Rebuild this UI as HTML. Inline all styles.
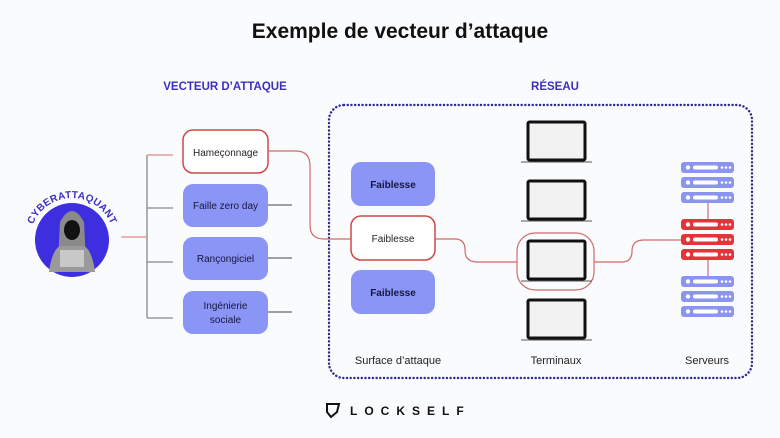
<!DOCTYPE html>
<html><head><meta charset="utf-8"><style>
html,body{margin:0;padding:0;background:#fafbfd}
svg{display:block}
text{font-family:"Liberation Sans",sans-serif}
</style></head><body>
<svg width="780" height="438" viewBox="0 0 780 438" xmlns="http://www.w3.org/2000/svg">
<defs>
<path id="arc" d="M30,240 A42,42 0 0 1 114,240"/>
<g id="srv"><rect x="0" y="0" width="53" height="11" rx="3"/><circle cx="7" cy="5.5" r="2.2" fill="#fff"/><rect x="12" y="3.5" width="25" height="4" rx="2" fill="#fff"/><circle cx="41" cy="5.5" r="1.3" fill="#fff"/><circle cx="45" cy="5.5" r="1.3" fill="#fff"/><circle cx="49" cy="5.5" r="1.3" fill="#fff"/></g>
<g id="lap"><rect x="528" y="0" width="57" height="38" fill="#f2f2f2" stroke="#111" stroke-width="3" rx="1.5"/><line x1="521" y1="40" x2="592" y2="40" stroke="#555" stroke-width="1"/></g>
</defs>
<rect width="780" height="438" fill="#fafbfd"/>
<text x="400" y="38" text-anchor="middle" font-size="21" font-weight="bold" fill="#111">Exemple de vecteur d’attaque</text>
<text x="225" y="90" text-anchor="middle" font-size="11.5" font-weight="bold" fill="#3b2fc4">VECTEUR D’ATTAQUE</text>
<text x="555" y="90" text-anchor="middle" font-size="11.5" font-weight="bold" fill="#3b2fc4">RÉSEAU</text>
<rect x="329" y="105" width="423" height="273" rx="15" fill="none" stroke="#2e2a8f" stroke-width="2.4" stroke-dasharray="0.1 3.6" stroke-linecap="round"/>
<!-- attacker -->
<circle cx="72" cy="240" r="37" fill="#3d2ee0"/>
<path d="M58,262 L60,222 Q72,200 84,222 L86,262 Z" fill="#8a8a8a"/>
<path d="M49,272 Q52,250 60,246 L84,246 Q92,250 95,272 Z" fill="#9a9a9a"/>
<ellipse cx="72" cy="230" rx="8" ry="10" fill="#111"/>
<rect x="60" y="250" width="24" height="17" fill="#c8c8c8"/>
<text font-size="10" font-weight="bold" fill="#3b2fc4" letter-spacing="0.3"><textPath href="#arc" startOffset="50%" text-anchor="middle">CYBERATTAQUANT</textPath></text>
<!-- bracket -->
<g stroke="#888" stroke-width="1.3" fill="none">
<line x1="147" y1="155" x2="147" y2="318"/>
<line x1="147" y1="208" x2="173" y2="208"/>
<line x1="147" y1="262" x2="173" y2="262"/>
<line x1="147" y1="318" x2="173" y2="318"/>
</g>
<g stroke="#d98c8c" stroke-width="1.3" fill="none">
<line x1="121" y1="237" x2="147" y2="237"/>
<line x1="147" y1="155" x2="173" y2="155"/>
</g>
<!-- vector boxes -->
<rect x="183" y="130" width="85" height="43" rx="10" fill="#fff" stroke="#d04848" stroke-width="1.5"/>
<text x="225.5" y="156" text-anchor="middle" font-size="10" fill="#222">Hameçonnage</text>
<rect x="183" y="184" width="85" height="43" rx="10" fill="#8b95f5"/>
<text x="225.5" y="209" text-anchor="middle" font-size="10" fill="#15173f">Faille zero day</text>
<rect x="183" y="237" width="85" height="43" rx="10" fill="#8b95f5"/>
<text x="225.5" y="262" text-anchor="middle" font-size="10" fill="#15173f">Rançongiciel</text>
<rect x="183" y="291" width="85" height="43" rx="10" fill="#8b95f5"/>
<text x="225.5" y="309" text-anchor="middle" font-size="10" fill="#15173f">Ingénierie</text>
<text x="225.5" y="323" text-anchor="middle" font-size="10" fill="#15173f">sociale</text>
<g stroke="#444" stroke-width="1"><line x1="268" y1="205" x2="292" y2="205"/><line x1="268" y1="258" x2="292" y2="258"/><line x1="268" y1="312" x2="292" y2="312"/></g>
<!-- red connectors -->
<g stroke="#d26a6a" stroke-width="1.2" fill="none">
<path d="M268,151 L296,151 Q310,151 310,166 L310,225 Q310,239 324,239 L351,239"/>
<path d="M435,239 L455,239 Q465,239 465,250 Q465,262 477,262 L517,262"/>
<path d="M594,262 L622,262 Q632,262 632,251 Q632,240 644,240 L681,240"/>
<rect x="517" y="233" width="77" height="57" rx="18"/>
</g>
<!-- faiblesse -->
<rect x="351" y="162" width="84" height="44" rx="10" fill="#8b95f5"/>
<text x="393" y="188" text-anchor="middle" font-size="10" font-weight="bold" fill="#15173f">Faiblesse</text>
<rect x="351" y="216" width="84" height="44" rx="10" fill="#fff" stroke="#d04848" stroke-width="1.5"/>
<text x="393" y="242" text-anchor="middle" font-size="10" fill="#222">Faiblesse</text>
<rect x="351" y="270" width="84" height="44" rx="10" fill="#8b95f5"/>
<text x="393" y="296" text-anchor="middle" font-size="10" font-weight="bold" fill="#15173f">Faiblesse</text>
<!-- laptops -->
<use href="#lap" transform="translate(0,122)"/>
<use href="#lap" transform="translate(0,181)"/>
<use href="#lap" transform="translate(0,241)"/>
<use href="#lap" transform="translate(0,300)"/>
<!-- servers -->
<g fill="#8b95f0">
<use href="#srv" x="681" y="162"/><use href="#srv" x="681" y="177"/><use href="#srv" x="681" y="192"/>
<use href="#srv" x="681" y="276"/><use href="#srv" x="681" y="291"/><use href="#srv" x="681" y="306"/>
</g>
<g fill="#e3343a">
<use href="#srv" x="681" y="219"/><use href="#srv" x="681" y="234"/><use href="#srv" x="681" y="249"/>
</g>
<g stroke="#c0505a" stroke-width="1"><line x1="708" y1="203" x2="708" y2="219"/><line x1="708" y1="260" x2="708" y2="276"/></g>
<text x="398" y="364" text-anchor="middle" font-size="11" fill="#222">Surface d’attaque</text>
<text x="556" y="364" text-anchor="middle" font-size="11" fill="#222">Terminaux</text>
<text x="707" y="364" text-anchor="middle" font-size="11" fill="#222">Serveurs</text>
<!-- logo -->
<path d="M327,404 L339,404 L337,412 L331,417 L327,412 Z" fill="none" stroke="#111" stroke-width="2"/>
<text x="350" y="415" font-size="12" font-weight="bold" fill="#111" letter-spacing="7">LOCKSELF</text>
</svg>
</body></html>
